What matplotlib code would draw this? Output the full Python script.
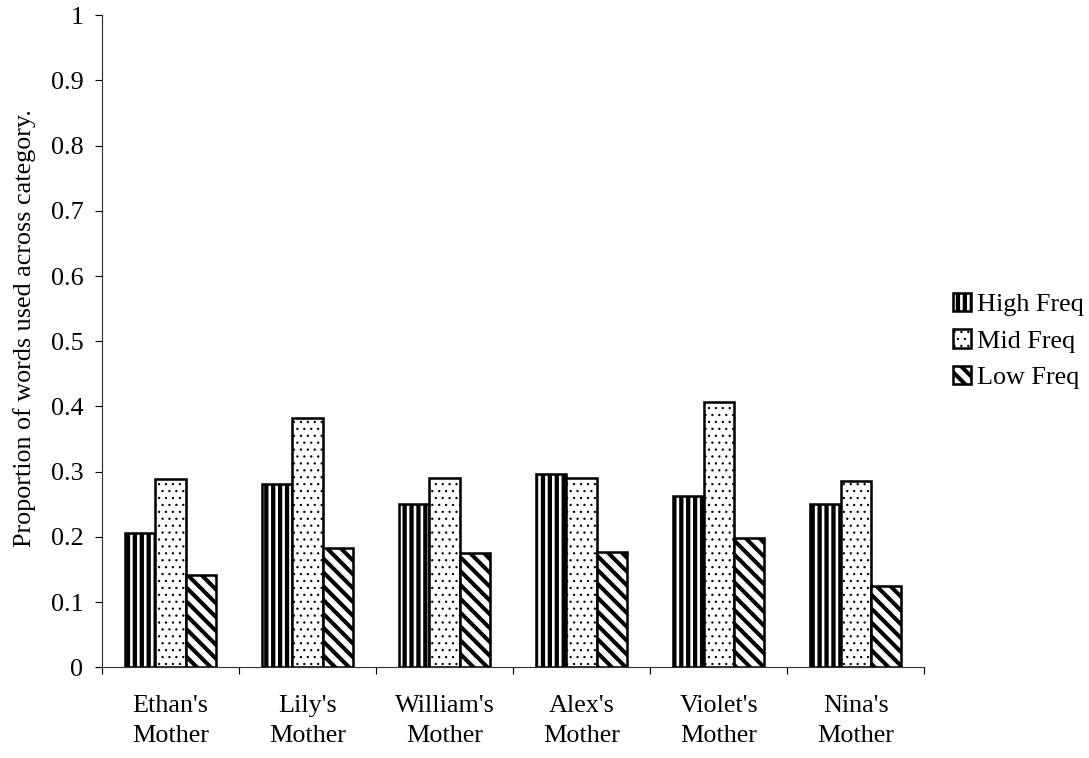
import matplotlib
matplotlib.use("Agg")
import matplotlib.pyplot as plt
import numpy as np

# Data
categories = ["Ethan's\nMother", "Lily's\nMother", "William's\nMother",
              "Alex's\nMother", "Violet's\nMother", "Nina's\nMother"]
high_freq = [0.206, 0.281, 0.250, 0.297, 0.263, 0.250]
mid_freq = [0.289, 0.383, 0.290, 0.291, 0.407, 0.286]
low_freq = [0.141, 0.183, 0.175, 0.177, 0.199, 0.124]
series_names = ["High Freq", "Mid Freq", "Low Freq"]
y_ticks = [0, 0.1, 0.2, 0.3, 0.4, 0.5, 0.6, 0.7, 0.8, 0.9, 1]
y_tick_labels = ["0", "0.1", "0.2", "0.3", "0.4", "0.5", "0.6", "0.7", "0.8", "0.9", "1"]

DPI = 1089 / 13.068
plt.rcParams['font.family'] = ['Liberation Serif', 'DejaVu Serif']
plt.rcParams['font.size'] = 22.6
plt.rcParams['hatch.color'] = 'black'

fig = plt.figure(figsize=(1089 / DPI, 758 / DPI), dpi=DPI)
ax = fig.add_axes([102 / 1089, 1 - 667.3 / 758, (924.3 - 102) / 1089, (667.3 - 15.3) / 758])

x = np.arange(len(categories))
bw = 0.222
# hatch pattern and hatch line width for each series
styles = [("||", 3.7), ("..", 0.8), ("\\\\", 3.5)]
handles = []
for i, (vals, (hatch, hlw)) in enumerate(zip([high_freq, mid_freq, low_freq], styles)):
    bars = ax.bar(x + (i - 1) * bw, vals, width=bw, facecolor='white',
                  edgecolor='black', linewidth=2.2, hatch=hatch,
                  label=series_names[i], zorder=3)
    for b in bars:
        b.set_hatch_linewidth(hlw)
    handles.append(bars)

ax.set_xlim(-0.5, len(categories) - 0.5)
ax.set_ylim(0, 1)
ax.set_yticks(y_ticks)
ax.set_yticklabels(y_tick_labels)
ax.set_xticks(x)
ax.set_xticklabels(categories, linespacing=1.45)
ax.set_xticks(np.arange(len(categories) + 1) - 0.5, minor=True)
ax.tick_params(axis='x', which='major', length=0, pad=24)
ax.tick_params(axis='x', which='minor', length=6, width=1.0, direction='out')
ax.tick_params(axis='y', which='major', length=6, width=1.0, direction='out', pad=10)

for s in ['top', 'right']:
    ax.spines[s].set_visible(False)
for s in ['left', 'bottom']:
    ax.spines[s].set_linewidth(1.0)
    ax.spines[s].set_color('#333333')

ax.set_ylabel("Proportion of words used across category.")
ax.yaxis.set_label_coords(-0.08, 0.52)

leg = fig.legend(handles=handles, labels=series_names, loc='center left',
                 bbox_to_anchor=(953 / 1089, 1 - 341 / 758), frameon=False,
                 handlelength=0.7, handleheight=0.7, handletextpad=0.2,
                 labelspacing=0.5, borderpad=0, borderaxespad=0)
for p, (_, hlw) in zip(leg.get_patches(), styles):
    p.set_hatch_linewidth(hlw)

fig.savefig("out.png", dpi=DPI)
